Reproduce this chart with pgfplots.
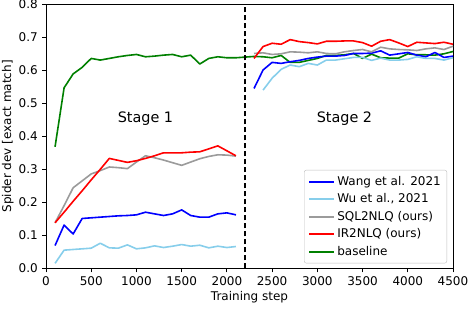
\documentclass[border=0pt]{standalone}
\usepackage{pgfplots}
\pgfplotsset{compat=1.18}
\usepackage{fontspec}
\setmainfont{DejaVu Sans}
\definecolor{skyb}{RGB}{135,206,235}
\definecolor{mgray}{RGB}{155,155,155}
\definecolor{mgreen}{RGB}{0,128,0}
\begin{document}
\fontsize{12}{14}\selectfont
\begin{tikzpicture}
\begin{axis}[
  at={(0,0)}, anchor=south west,
  scale only axis, width=407pt, height=264pt,
  xmin=0, xmax=4500, ymin=0, ymax=0.8,
  xtick={0,500,...,4500}, ytick={0,0.1,...,0.8},
  yticklabel style={/pgf/number format/.cd, fixed, fixed zerofill, precision=1},
  xticklabel style={/pgf/number format/.cd, fixed, 1000 sep={}},
  /pgf/number format/assume math mode=true,
  tick align=outside, major tick length=4pt, tick pos=left,
  every tick/.style={black, line width=0.8pt},
  axis line style={line width=0.8pt},
  scaled x ticks=false,
  xlabel={Training step}, ylabel={Spider dev [exact match]},
  xlabel style={yshift=2pt}, ylabel style={yshift=-3pt},
  legend style={at={(1,0)}, anchor=south east, xshift=-6pt, yshift=5pt,
    draw=black!25, rounded corners=2pt, font=\fontsize{12}{14}\selectfont,
    row sep=2.6pt, inner xsep=4pt, inner ysep=4pt, cells={anchor=west}},
  legend image code/.code={\draw[#1, line width=2pt] (0pt,0pt) -- (25pt,0pt);},
  every axis plot/.append style={line width=1.6pt, line join=round},
]
% Wang (blue)
\addplot[blue] coordinates {(100,0.069)(200,0.131)(300,0.104)(400,0.151)(500,0.153)(600,0.155)(700,0.157)(800,0.159)(900,0.160)(1000,0.162)(1100,0.170)(1200,0.165)(1300,0.160)(1400,0.165)(1500,0.177)(1600,0.160)(1700,0.155)(1800,0.155)(1900,0.165)(2000,0.168)(2100,0.162)};
\addlegendentry{Wang et al. 2021}
\addplot[skyb] coordinates {(100,0.015)(200,0.055)(300,0.057)(400,0.059)(500,0.061)(600,0.076)(700,0.062)(800,0.061)(900,0.071)(1000,0.059)(1100,0.062)(1200,0.068)(1300,0.063)(1400,0.067)(1500,0.072)(1600,0.067)(1700,0.070)(1800,0.062)(1900,0.067)(2000,0.063)(2100,0.066)};
\addlegendentry{Wu et al., 2021}
\addplot[mgray] coordinates {(100,0.138)(200,0.19)(300,0.244)(400,0.265)(500,0.286)(600,0.296)(700,0.307)(800,0.305)(900,0.302)(1000,0.322)(1100,0.341)(1200,0.335)(1300,0.328)(1400,0.320)(1500,0.312)(1600,0.322)(1700,0.332)(1800,0.339)(1900,0.344)(2000,0.343)(2100,0.340)};
\addlegendentry{SQL2NLQ (ours)}
\addplot[red] coordinates {(100,0.138)(200,0.170)(300,0.203)(400,0.235)(500,0.268)(600,0.300)(700,0.333)(800,0.327)(900,0.321)(1000,0.326)(1100,0.333)(1200,0.341)(1300,0.350)(1400,0.350)(1500,0.350)(1600,0.352)(1700,0.353)(1800,0.362)(1900,0.371)(2000,0.356)(2100,0.341)};
\addlegendentry{IR2NLQ (ours)}
\addplot[mgreen] coordinates {(100,0.368)(200,0.547)(300,0.589)(400,0.609)(500,0.636)(600,0.631)(700,0.636)(800,0.641)(900,0.645)(1000,0.648)(1100,0.641)(1200,0.643)(1300,0.646)(1400,0.648)(1500,0.641)(1600,0.646)(1700,0.619)(1800,0.636)(1900,0.641)(2000,0.638)(2100,0.638)(2200,0.640)(2300,0.642)(2400,0.641)(2500,0.638)(2600,0.645)(2700,0.624)(2800,0.624)(2900,0.630)(3000,0.636)(3100,0.645)(3200,0.645)(3300,0.647)(3400,0.651)(3500,0.636)(3600,0.649)(3700,0.638)(3800,0.637)(3900,0.637)(4000,0.650)(4100,0.647)(4200,0.647)(4300,0.646)(4400,0.650)(4500,0.657)};
\addlegendentry{baseline}
% stage 2
\addplot[blue, forget plot] coordinates {(2300,0.545)(2400,0.601)(2500,0.624)(2600,0.621)(2700,0.626)(2800,0.630)(2900,0.636)(3000,0.640)(3100,0.643)(3200,0.643)(3300,0.645)(3400,0.651)(3500,0.651)(3600,0.652)(3700,0.659)(3800,0.646)(3900,0.650)(4000,0.654)(4100,0.646)(4200,0.641)(4300,0.654)(4400,0.639)(4500,0.643)};
\addplot[skyb, forget plot] coordinates {(2400,0.540)(2500,0.576)(2600,0.603)(2700,0.616)(2800,0.611)(2900,0.621)(3000,0.616)(3100,0.631)(3200,0.631)(3300,0.635)(3400,0.639)(3500,0.639)(3600,0.630)(3700,0.637)(3800,0.631)(3900,0.631)(4000,0.633)(4100,0.641)(4200,0.636)(4300,0.636)(4400,0.631)(4500,0.638)};
\addplot[mgray, forget plot] coordinates {(2300,0.651)(2400,0.653)(2500,0.648)(2600,0.650)(2700,0.656)(2800,0.655)(2900,0.653)(3000,0.656)(3100,0.651)(3200,0.650)(3300,0.656)(3400,0.660)(3500,0.663)(3600,0.656)(3700,0.670)(3800,0.665)(3900,0.663)(4000,0.662)(4100,0.660)(4200,0.665)(4300,0.668)(4400,0.663)(4500,0.673)};
\addplot[red, forget plot] coordinates {(2300,0.636)(2400,0.672)(2500,0.682)(2600,0.679)(2700,0.693)(2800,0.687)(2900,0.684)(3000,0.680)(3100,0.688)(3200,0.688)(3300,0.689)(3400,0.689)(3500,0.684)(3600,0.673)(3700,0.688)(3800,0.693)(3900,0.683)(4000,0.672)(4100,0.685)(4200,0.683)(4300,0.681)(4400,0.685)(4500,0.679)};
\addplot[black, dashed, line width=1.4pt, dash pattern=on 5pt off 3pt, forget plot] coordinates {(2200,0)(2200,0.8)};
\node[font=\fontsize{14.4}{16}\selectfont] at (axis cs:1100,0.455) {Stage 1};
\node[font=\fontsize{14.4}{16}\selectfont] at (axis cs:3300,0.455) {Stage 2};
\end{axis}
\pgfresetboundingbox
\path (-46pt,-39.7pt) rectangle (422pt,268.3pt);
\end{tikzpicture}
\end{document}
